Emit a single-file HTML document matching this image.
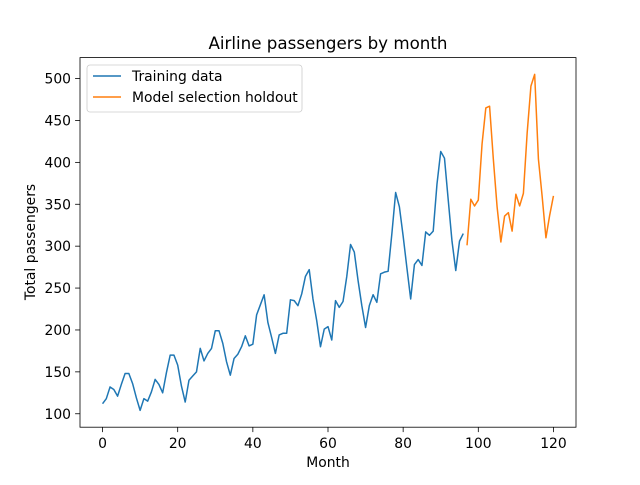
<!DOCTYPE html>
<html><head><meta charset="utf-8"><style>
body{margin:0;background:#fff;font-family:"Liberation Sans","DejaVu Sans",sans-serif}
svg text{font-family:"DejaVu Sans","Liberation Sans",sans-serif}
</style></head><body>
<svg id="c" width="640" height="480" xmlns="http://www.w3.org/2000/svg"></svg>
<script>
const passengers=[112,118,132,129,121,135,148,148,136,119,104,118,
115,126,141,135,125,149,170,170,158,133,114,140,
145,150,178,163,172,178,199,199,184,162,146,166,
171,180,193,181,183,218,230,242,209,191,172,194,
196,196,236,235,229,243,264,272,237,211,180,201,
204,188,235,227,234,264,302,293,259,229,203,229,
242,233,267,269,270,315,364,347,312,274,237,278,
284,277,317,313,318,374,413,405,355,306,271,306,
315,301,356,348,355,422,465,467,404,347,305,336,
340,318,362,348,363,435,491,505,404,359,310,337,360];
const trainEnd=96;
const xTicks=[0,20,40,60,80,100,120];
const yTicks=[100,150,200,250,300,350,400,450,500];
const L=80,R=576,T=57.6,B=427.2;
const xmin=-6,xmax=126,ymin=83.95,ymax=525.05;
const sx=v=>L+(v-xmin)/(xmax-xmin)*(R-L);
const sy=v=>B-(v-ymin)/(ymax-ymin)*(B-T);
const svg=document.getElementById('c');const NS='http://www.w3.org/2000/svg';
function mk(t,a,p){const e=document.createElementNS(NS,t);for(const k in a)e.setAttribute(k,a[k]);(p||svg).appendChild(e);return e;}
function line(idx,color,name){
  const pts=idx.map(i=>sx(i).toFixed(2)+','+sy(passengers[i]).toFixed(2)).join(' ');
  const e=mk('polyline',{points:pts,fill:'none',stroke:color,'stroke-width':1.5,'stroke-linejoin':'round'});
  
  
}
const tr=[],ho=[];
for(let i=0;i<=trainEnd;i++)tr.push(i);
for(let i=trainEnd+1;i<passengers.length;i++)ho.push(i);
line(tr,'#1f77b4','training-line');
line(ho,'#ff7f0e','holdout-line');
const fr=mk('rect',{x:L,y:T,width:R-L,height:B-T,fill:'none',stroke:'#000','stroke-width':0.8});


xTicks.forEach(v=>{const x=sx(v);mk('line',{x1:x,x2:x,y1:B,y2:B+4.9,stroke:'#000','stroke-width':0.8});
 const t=mk('text',{x:x,y:B+21,'text-anchor':'middle','font-size':13.9});t.textContent=v;
 
 });
yTicks.forEach(v=>{const y=sy(v);mk('line',{x1:L-4.9,x2:L,y1:y,y2:y,stroke:'#000','stroke-width':0.8});
 const t=mk('text',{x:L-9,y:y+5,'text-anchor':'end','font-size':13.9});t.textContent=v;
 
 });
</script>
<svg width="640" height="480" style="position:absolute;left:0;top:0" xmlns="http://www.w3.org/2000/svg">
<text x="328" y="49" text-anchor="middle" font-size="16.7">Airline passengers by month</text>
<text x="328" y="467" text-anchor="middle" font-size="13.9">Month</text>
<text x="35" y="242" text-anchor="middle" font-size="13.9" transform="rotate(-90 35 242)">Total passengers</text>
<g>
<rect x="87" y="65" width="215" height="47" rx="3" fill="#fff" fill-opacity="0.8" stroke="#ccc" stroke-width="0.8"/>
<line x1="93" x2="121" y1="76" y2="76" stroke="#1f77b4" stroke-width="1.5"/>
<text x="132" y="81" font-size="13.9">Training data</text>
<line x1="93" x2="121" y1="97" y2="97" stroke="#ff7f0e" stroke-width="1.5"/>
<text x="132" y="102" font-size="13.9">Model selection holdout</text>
</g>
</svg>
</body></html>
